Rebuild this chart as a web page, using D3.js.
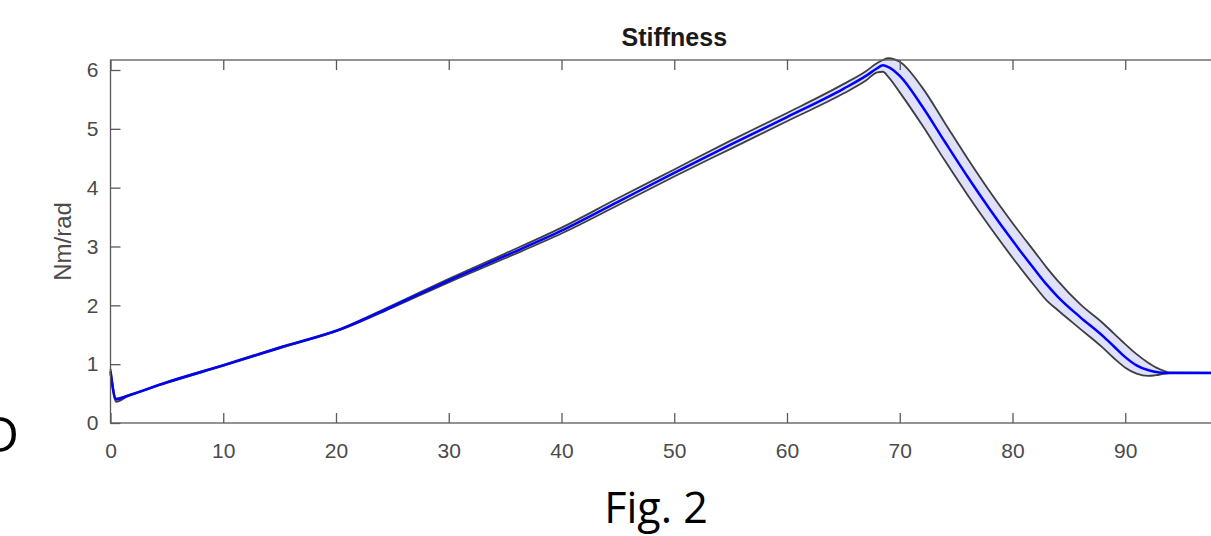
<!DOCTYPE html>
<html>
<head>
<meta charset="utf-8">
<script src="https://cdn.jsdelivr.net/npm/d3@7"></script>
<style>
	html, body { margin: 0; padding: 0; background: #ffffff; }
	svg { display: block; }
</style>
</head>
<body>
<div id="chart"></div>
<script>
// Stiffness values (x in %, y in Nm/rad)
const xValues = [0, 0.5, 1.5, 5, 10, 15, 20.5, 25, 30, 35, 40, 45, 50, 55, 60, 65, 67, 68, 68.5, 69, 70, 72, 74, 76, 78, 80, 82, 83, 84, 86, 88, 89, 90, 91, 92, 93, 94, 100];
const meanValues = [0.88, 0.40, 0.46, 0.69, 0.98, 1.28, 1.60, 1.98, 2.42, 2.84, 3.27, 3.76, 4.25, 4.73, 5.20, 5.68, 5.90, 6.03, 6.08, 6.05, 5.90, 5.38, 4.78, 4.19, 3.63, 3.10, 2.60, 2.36, 2.15, 1.80, 1.48, 1.30, 1.12, 0.98, 0.90, 0.86, 0.85, 0.85];
const upperValues = [0.92, 0.42, 0.47, 0.70, 0.99, 1.29, 1.61, 2.00, 2.45, 2.88, 3.32, 3.82, 4.31, 4.80, 5.27, 5.76, 5.98, 6.12, 6.17, 6.20, 6.14, 5.70, 5.10, 4.50, 3.93, 3.40, 2.90, 2.65, 2.42, 2.02, 1.70, 1.52, 1.34, 1.17, 1.03, 0.92, 0.86, 0.85];
const lowerValues = [0.84, 0.36, 0.45, 0.68, 0.97, 1.27, 1.59, 1.96, 2.39, 2.80, 3.22, 3.70, 4.19, 4.66, 5.13, 5.60, 5.82, 5.96, 5.97, 5.88, 5.62, 5.06, 4.46, 3.88, 3.33, 2.81, 2.32, 2.09, 1.92, 1.60, 1.28, 1.10, 0.94, 0.84, 0.80, 0.82, 0.85, 0.85];
const xTicks = [0, 10, 20, 30, 40, 50, 60, 70, 80, 90, 100];
const xTickLabels = ["0", "10", "20", "30", "40", "50", "60", "70", "80", "90", ""];
const yTicks = [0, 1, 2, 3, 4, 5, 6];

function drawChart() {
	const width = 1211, height = 536;
	const left = 110.5, right = 1238, top = 60, bottom = 423;

	const svg = d3.select("#chart")
		.append("svg")
		.attr("width", width)
		.attr("height", height);

	const x = d3.scaleLinear().domain([0, 100]).range([left, right]);
	const y = d3.scaleLinear().domain([0, 6.17]).range([bottom, top]);

	const rows = xValues.map((d, i) => ({
		x: d, mean: meanValues[i], upper: upperValues[i], lower: lowerValues[i]
	}));

	// Shaded band between the upper and lower curves
	svg.append("path")
		.datum(rows)
		.attr("fill", "#dfe0fa")
		.attr("d", d3.area()
			.curve(d3.curveMonotoneX)
			.x((d) => x(d.x))
			.y0((d) => y(d.lower))
			.y1((d) => y(d.upper)));

	["upper", "lower"].forEach((key) => {
		svg.append("path")
			.datum(rows)
			.attr("fill", "none")
			.attr("stroke", "#111111")
			.attr("stroke-opacity", 0.8)
			.attr("stroke-width", 1.8)
			.attr("d", d3.line()
				.curve(d3.curveMonotoneX)
				.x((d) => x(d.x))
				.y((d) => y(d[key])));
	});

	// Mean curve
	svg.append("path")
		.datum(rows)
		.attr("fill", "none")
		.attr("stroke", "#0000ff")
		.attr("stroke-width", 2.5)
		.attr("d", d3.line()
			.curve(d3.curveMonotoneX)
			.x((d) => x(d.x))
			.y((d) => y(d.mean)));

	// Axes, MATLAB style: ticks pointing inward, box around
	const axisColor = "#5a5a5a";
	const labelColor = "#4a4a4a";
	const tickFont = "'Liberation Sans', Arial, sans-serif";

	const gx = svg.append("g")
		.attr("transform", `translate(0,${bottom})`)
		.call(d3.axisBottom(x).tickValues(xTicks)
			.tickFormat((d, i) => xTickLabels[i])
			.tickSizeInner(-10).tickSizeOuter(0).tickPadding(20));
	const gxTop = svg.append("g")
		.attr("transform", `translate(0,${top})`)
		.call(d3.axisTop(x).tickValues(xTicks).tickSizeInner(-10).tickSizeOuter(0).tickFormat(""));
	const gy = svg.append("g")
		.attr("transform", `translate(${left},0)`)
		.call(d3.axisLeft(y).tickValues(yTicks).tickFormat(d3.format("d"))
			.tickSizeInner(-10).tickSizeOuter(0).tickPadding(12));

	[gx, gxTop, gy].forEach((g) => {
		g.select(".domain").remove();
		g.selectAll(".tick line").attr("stroke", axisColor).attr("stroke-width", 1.3);
		g.selectAll("text")
			.style("font-family", tickFont)
			.style("font-size", "21px")
			.attr("fill", labelColor);
	});

	svg.append("rect")
		.attr("x", left)
		.attr("y", top)
		.attr("width", right - left)
		.attr("height", bottom - top)
		.attr("fill", "none")
		.attr("stroke", axisColor)
		.attr("stroke-width", 1.3);

	// Title and axis label
	svg.append("text")
		.attr("x", (left + right) / 2)
		.attr("y", 46)
		.attr("text-anchor", "middle")
		.style("font-family", tickFont)
		.style("font-weight", "bold")
		.style("font-size", "25px")
		.attr("fill", "#1a1a1a")
		.text("Stiffness");

	svg.append("text")
		.attr("transform", `translate(71,${(top + bottom) / 2}) rotate(-90)`)
		.attr("text-anchor", "middle")
		.style("font-family", tickFont)
		.style("font-size", "24px")
		.attr("fill", labelColor)
		.text("Nm/rad");

	// Figure caption and panel letter (the letter is cut by the left edge, as in the source)
	svg.append("text")
		.attr("x", 656)
		.attr("y", 523)
		.attr("text-anchor", "middle")
		.style("font-family", "'Open Sans', sans-serif")
		.style("font-size", "43px")
		.attr("fill", "#000000")
		.text("Fig. 2");

	svg.append("text")
		.attr("x", 19)
		.attr("y", 452)
		.attr("text-anchor", "end")
		.style("font-family", "'Open Sans', sans-serif")
		.style("font-size", "50px")
		.attr("fill", "#000000")
		.text("D");
}

document.addEventListener("DOMContentLoaded", drawChart);
</script>
</body>
</html>
